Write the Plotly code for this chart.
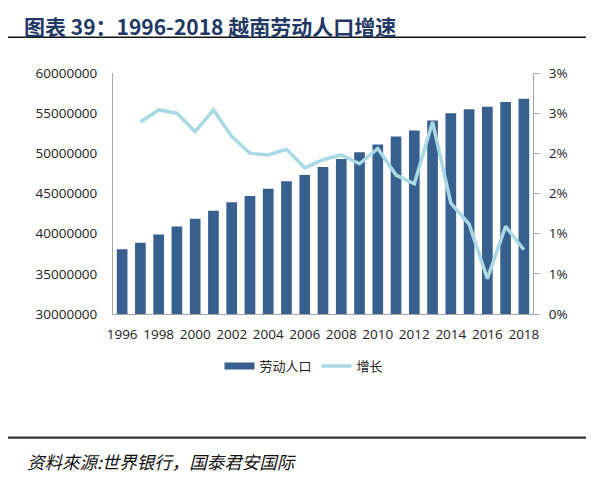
import plotly.graph_objects as go

# ---- data ----
years = list(range(1996, 2019))
labor_force = [38050000, 38870000, 39900000, 40900000, 41860000, 42850000, 43900000,
               44700000, 45600000, 46540000, 47300000, 48300000, 49300000, 50150000,
               51100000, 52100000, 52850000, 54100000, 55000000, 55500000, 55800000,
               56400000, 56800000]
growth_years = list(range(1997, 2019))
growth_pct = [2.39, 2.54, 2.50, 2.27, 2.54, 2.21, 2.00, 1.98, 2.05, 1.82, 1.92,
              1.98, 1.87, 2.06, 1.73, 1.62, 2.39, 1.38, 1.12, 0.44, 1.09, 0.80]
left_ticks = [30000000, 35000000, 40000000, 45000000, 50000000, 55000000, 60000000]
left_ticktext = [str(v) for v in left_ticks]
right_ticks = [0, 0.5, 1.0, 1.5, 2.0, 2.5, 3.0]
right_ticktext = ["0%", "1%", "1%", "2%", "2%", "3%", "3%"]
x_ticks = list(range(1996, 2019, 2))

title_text = "图表 39：1996-2018 越南劳动人口增速"
source_text = "资料來源:世界银行，国泰君安国际"
bar_name = "劳动人口"
line_name = "增长"

# ---- layout geometry (page pixels; the page body adds an 8px offset) ----
OFF = 8
W, H = 600 - OFF, 485 - OFF
L, R, T, B = 113 - OFF, 533 - OFF, 73 - OFF, 314 - OFF  # plot area in figure pixels


def px2x(px):
    return (px - OFF - L) / (R - L)


def px2y(py):
    return (B - (py - OFF)) / (B - T)


BAR_COLOR = "#37608F"
LINE_COLOR = "#A9D9E2"
AXIS_COLOR = "#A6A6A6"
TICK_FONT = dict(family="Open Sans, Liberation Sans, sans-serif", size=13.5, color="#222222")
CJK = "Noto Sans CJK SC, sans-serif"

fig = go.Figure()
fig.add_trace(go.Bar(x=years, y=labor_force, name=bar_name, marker_color=BAR_COLOR,
                     marker_line_width=0, showlegend=False, yaxis="y"))
# legend proxy for the bar series (wide rectangle like the reference)
fig.add_trace(go.Scatter(x=[None], y=[None], mode="lines", name=bar_name,
                         line=dict(color=BAR_COLOR, width=7), yaxis="y"))
fig.add_trace(go.Scatter(x=growth_years, y=growth_pct, mode="lines", name=line_name,
                         line=dict(color=LINE_COLOR, width=3.5), yaxis="y2"))

fig.update_layout(
    width=W, height=H,
    margin=dict(l=L, r=W - R, t=T, b=H - B, autoexpand=False),
    paper_bgcolor="white", plot_bgcolor="white",
    bargap=0.415,
    showlegend=True,
    legend=dict(orientation="h", x=px2x(304), y=px2y(366), xanchor="center", yanchor="middle",
                font=dict(family=CJK, size=13, color="#222222"), itemwidth=30,
                bgcolor="rgba(0,0,0,0)"),
    xaxis=dict(range=[1995.5, 2018.5], tickmode="array", tickvals=x_ticks,
               ticktext=[str(v) for v in x_ticks], showgrid=False, zeroline=False,
               showline=True, linecolor=AXIS_COLOR, linewidth=1, ticks="",
               tickfont=TICK_FONT, ticklabelstandoff=8),
    yaxis=dict(range=[30000000, 60000000], tickmode="array", tickvals=left_ticks,
               ticktext=left_ticktext, showgrid=False, zeroline=False, showline=True,
               linecolor=AXIS_COLOR, linewidth=1, ticks="", tickfont=TICK_FONT,
               ticklabelstandoff=12),
    yaxis2=dict(range=[0, 3.0], overlaying="y", side="right", tickmode="array",
                tickvals=right_ticks, ticktext=right_ticktext, showgrid=False,
                zeroline=False, showline=True, linecolor=AXIS_COLOR, linewidth=1,
                ticks="outside", ticklen=6, tickcolor=AXIS_COLOR, tickfont=TICK_FONT,
                ticklabelstandoff=6),
)

fig.add_annotation(text=f"<b>{title_text}</b>", xref="paper", yref="paper",
                   x=px2x(22), y=px2y(8.5), xanchor="left", yanchor="top",
                   showarrow=False, font=dict(family=CJK, size=21, color="#1F3864"))
fig.add_annotation(text=source_text, xref="paper", yref="paper",
                   x=px2x(25), y=px2y(461.5), xanchor="left", yanchor="middle",
                   showarrow=False,
                   font=dict(family=CJK, size=17.5, color="#111111", style="italic"))

fig.add_shape(type="line", xref="paper", yref="paper", x0=px2x(8), x1=px2x(586),
              y0=px2y(37.3), y1=px2y(37.3), line=dict(color="#111111", width=1.5))
fig.add_shape(type="line", xref="paper", yref="paper", x0=px2x(8), x1=px2x(586),
              y0=px2y(437.7), y1=px2y(437.7), line=dict(color="#333333", width=2.2))

fig.write_html("out.html")
